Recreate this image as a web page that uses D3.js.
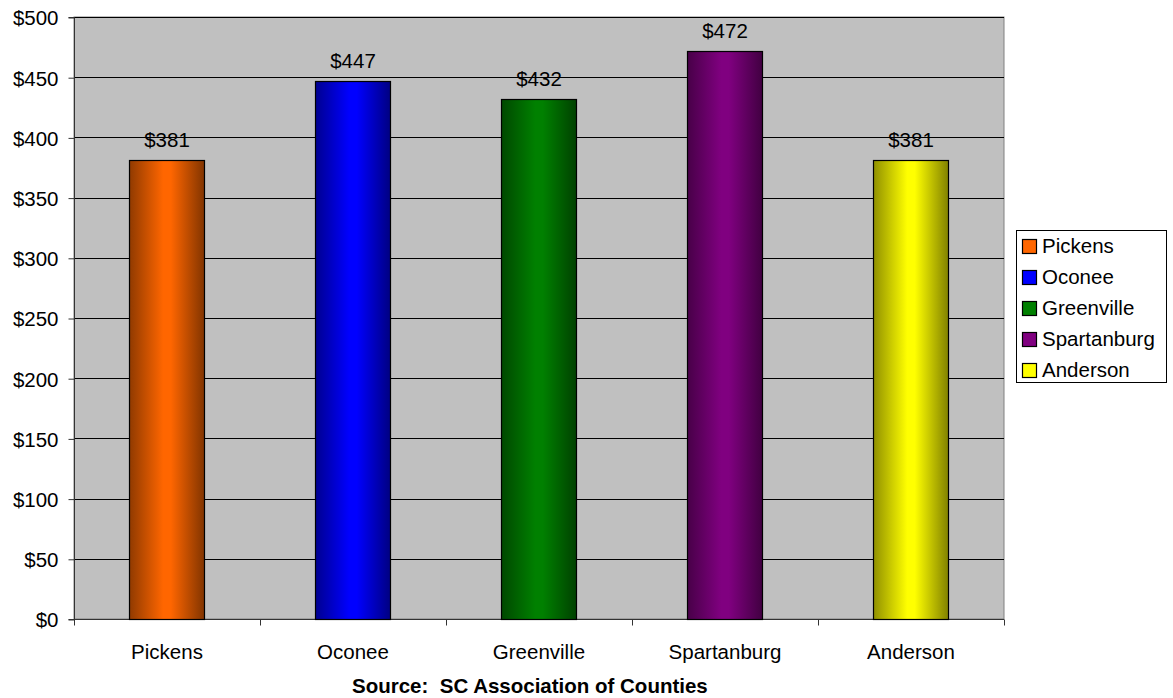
<!DOCTYPE html>
<html>
<head>
<meta charset="utf-8">
<script src="https://cdn.jsdelivr.net/npm/d3@7"></script>
<style>
  html, body { margin: 0; padding: 0; background: #fff; }
  svg { display: block; font-family: "Liberation Sans", Arial, sans-serif; }
</style>
</head>
<body>
<svg id="chart" width="1173" height="698"></svg>
<script>
// County figures
const counties = ["Pickens", "Oconee", "Greenville", "Spartanburg", "Anderson"];
const amounts = [381, 447, 432, 472, 381];
const barColors = ["#FF6600", "#0000FF", "#008000", "#800080", "#FFFF00"];
const yTicks = [0, 50, 100, 150, 200, 250, 300, 350, 400, 450, 500];
const sourceText = "Source:  SC Association of Counties";

const FONT = "Liberation Sans, Arial, sans-serif";
const FS = 20.5;

const svg = d3.select("#chart");
const plot = { left: 74, top: 17, right: 1004, bottom: 619 };

const x = d3.scaleBand().domain(counties).range([plot.left, plot.right]).paddingInner(0.595).paddingOuter(0.2975);
const y = d3.scaleLinear().domain([0, 500]).range([plot.bottom, plot.top]);

// gradients for the cylinder-like shading of each bar
const defs = svg.append("defs");
counties.forEach((c, i) => {
  const base = d3.color(barColors[i]);
  const g = defs.append("linearGradient").attr("id", "grad" + i)
    .attr("x1", "0%").attr("x2", "100%").attr("y1", "0%").attr("y2", "0%");
  g.append("stop").attr("offset", "0%").attr("stop-color", base.darker(1.6));
  g.append("stop").attr("offset", "45%").attr("stop-color", base);
  g.append("stop").attr("offset", "55%").attr("stop-color", base);
  g.append("stop").attr("offset", "100%").attr("stop-color", base.darker(1.9));
});

// plot background
svg.append("rect")
  .attr("x", plot.left).attr("y", plot.top)
  .attr("width", plot.right - plot.left).attr("height", plot.bottom - plot.top)
  .attr("fill", "#C0C0C0").attr("stroke", "#808080").attr("stroke-width", 1);

// horizontal gridlines
svg.append("g").selectAll("line").data(yTicks.slice(1)).join("line")
  .attr("x1", plot.left).attr("x2", plot.right)
  .attr("y1", d => Math.round(y(d)) + 0.5).attr("y2", d => Math.round(y(d)) + 0.5)
  .attr("stroke", "#000").attr("stroke-width", 1);

// y axis
const yAxis = svg.append("g").attr("transform", `translate(${plot.left + 0.5},0.5)`)
  .call(d3.axisLeft(y).tickValues(yTicks).tickSize(6).tickPadding(10).tickFormat(d => "$" + d));
yAxis.attr("font-size", FS).attr("font-family", FONT);
yAxis.select(".domain").attr("stroke", "#333").attr("d", `M-6,${plot.top}H0V${plot.bottom}H-6`);
yAxis.selectAll(".tick line").attr("stroke", "#333");
yAxis.selectAll(".tick text").attr("fill", "#000").attr("dy", "0.36em");

// x axis
const xAxis = svg.append("g").attr("transform", `translate(0,${plot.bottom + 0.5})`);
xAxis.append("line").attr("x1", plot.left).attr("x2", plot.right).attr("stroke", "#333");
const boundaries = d3.range(counties.length + 1).map(i => plot.left + i * (plot.right - plot.left) / counties.length);
xAxis.selectAll(".tk").data(boundaries).join("line").attr("class", "tk")
  .attr("x1", d => Math.round(d) + 0.5).attr("x2", d => Math.round(d) + 0.5)
  .attr("y1", 0).attr("y2", 6).attr("stroke", "#333");
xAxis.selectAll("text").data(counties).join("text")
  .attr("x", d => x(d) + x.bandwidth() / 2).attr("y", 39)
  .attr("text-anchor", "middle").attr("font-size", FS).attr("fill", "#000")
  .text(d => d);

// bars
svg.append("g").selectAll("rect").data(counties).join("rect")
  .attr("x", d => Math.round(x(d)) + 0.5)
  .attr("y", (d, i) => Math.round(y(amounts[i])) + 0.5)
  .attr("width", Math.round(x.bandwidth()))
  .attr("height", (d, i) => Math.round(y(0)) - Math.round(y(amounts[i])))
  .attr("fill", (d, i) => `url(#grad${i})`)
  .attr("stroke", "#000").attr("stroke-width", 1.2);

// value labels
svg.append("g").selectAll("text").data(counties).join("text")
  .attr("x", d => x(d) + x.bandwidth() / 2)
  .attr("y", (d, i) => y(amounts[i]) - 13)
  .attr("text-anchor", "middle").attr("font-size", FS).attr("fill", "#000")
  .text((d, i) => "$" + amounts[i]);

// legend
const legend = svg.append("g");
legend.append("rect").attr("x", 1016.5).attr("y", 230.5).attr("width", 150).attr("height", 152)
  .attr("fill", "#fff").attr("stroke", "#000").attr("stroke-width", 1);
const rows = legend.selectAll("g").data(counties).join("g")
  .attr("transform", (d, i) => `translate(1022,${253 + i * 31})`);
rows.append("rect").attr("x", 0.5).attr("y", -13.5).attr("width", 14).attr("height", 14)
  .attr("fill", (d, i) => barColors[i]).attr("stroke", "#000").attr("stroke-width", 1.2);
rows.append("text").attr("x", 20).attr("y", 0).attr("font-size", FS).attr("fill", "#000").text(d => d);

// source note
svg.append("text").attr("x", 352).attr("y", 693)
  .attr("text-anchor", "start").attr("font-size", FS).attr("font-weight", "bold").attr("fill", "#000")
  .attr("xml:space", "preserve").style("white-space", "pre")
  .text(sourceText);
</script>
</body>
</html>
